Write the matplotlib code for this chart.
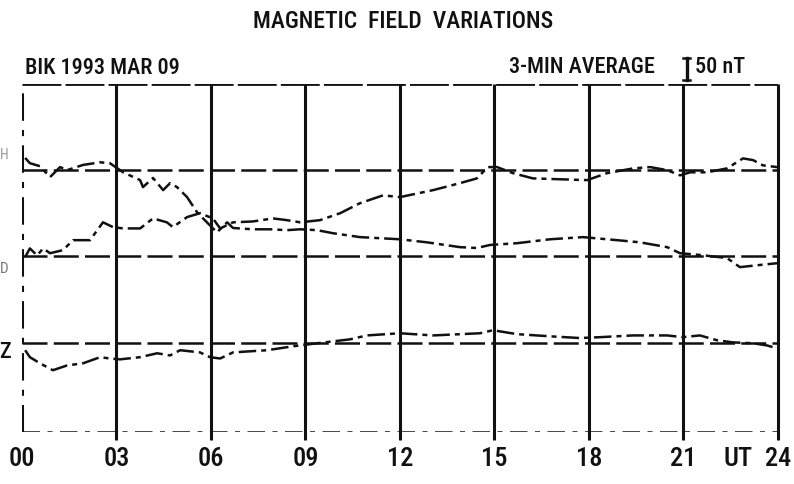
"""Magnetic field variations, BIK 1993 MAR 09 (plotter-style replica)."""
import matplotlib
matplotlib.use("Agg")
import matplotlib.pyplot as plt

INK = "#111111"
FONT = dict(family="Roboto Condensed", weight=500, color=INK)

# baselines (nT, plot units) and the 50 nT scale bar
base_h, base_d, base_z = 0, -198, -398
ylo, yhi = -602, 198
hours_grid = [0, 3, 6, 9, 12, 15, 18, 21, 24]
hour_labels = ["00", "03", "06", "09", "12", "15", "18", "21", "24"]

# H component: deviation from baseline, nT
h_t = [0.1, 0.25, 0.57, 0.89, 1.21, 1.43, 1.94, 2.48, 2.79, 3.21, 3.75, 3.84,
       4.16, 4.48, 4.70, 4.92, 5.24, 5.56, 5.87, 6.19, 6.51, 6.70, 7.33, 7.87,
       8.41, 8.83, 9.37, 9.87, 10.73, 12.0, 12.86, 13.9, 14.44, 14.86, 15.71,
       16.76, 17.81, 18.89, 19.62, 20.48, 20.89, 21.52, 22.38, 22.79, 23.43, 23.97]
h_v = [28, 16, 9, -16, 7, 0, 12, 18, 16, -5, -23, -39,
       -18, -46, -30, -39, -62, -97, -120, -143, -120, -133, -136, -136,
       -138, -136, -138, -145, -154, -159, -166, -177, -179, -172, -168,
       -159, -154, -161, -166, -177, -191, -195, -202, -223, -218, -214]

# D component
d_t = [0.1, 0.25, 0.48, 0.67, 0.89, 1.3, 1.62, 2.16, 2.57, 2.89, 3.21, 3.75,
       4.16, 4.6, 4.79, 5.24, 5.65, 6.06, 6.29, 6.7, 7.33, 7.97, 8.41, 8.83,
       9.46, 10.1, 10.73, 11.46, 12.0, 13.05, 13.9, 14.44, 14.79, 15.08, 15.59,
       16.22, 17.08, 17.94, 18.57, 19.4, 19.94, 20.48, 20.89, 21.21, 21.75,
       22.38, 22.89, 23.21, 23.52, 23.97]
d_v = [-2, 18, 2, 18, 7, 14, 37, 37, 78, 67, 64, 64,
       87, 78, 67, 90, 99, 87, 64, 78, 80, 87, 83, 78,
       83, 99, 122, 140, 136, 152, 168, 179, 205, 205, 191,
       179, 177, 175, 191, 202, 205, 198, 186, 193, 193,
       202, 225, 221, 209, 205]

# Z component
z_t = [0.1, 0.25, 0.57, 0.98, 1.43, 1.94, 2.48, 2.79, 3.11, 3.75, 4.29, 4.7,
       5.02, 5.65, 5.97, 6.29, 6.7, 7.78, 8.6, 9.37, 10.41, 10.95, 12.0, 13.05,
       14.54, 14.95, 15.71, 16.76, 17.71, 18.35, 19.4, 20.48, 20.98, 21.52,
       22.06, 22.57, 23.21, 23.65, 23.84]
z_v = [-16, -32, -46, -62, -51, -46, -32, -35, -37, -32, -23, -28,
       -16, -21, -32, -35, -21, -16, -7, 0, 9, 18, 23, 18,
       23, 30, 21, 16, 12, 14, 18, 18, 14, 18,
       7, 2, 0, -5, -9]

fig = plt.figure(figsize=(7.94, 4.84), dpi=100)
W, Hpx = 794, 484
ax = fig.add_axes([22 / W, 1 - 432 / Hpx, 756 / W, 348 / Hpx])
ax.set_xlim(0, 24)
ax.set_ylim(ylo, yhi)
ax.axis("off")

# frame + hour grid
ax.vlines(hours_grid[1:], ylo - 18, yhi, color=INK, lw=2.2, clip_on=False)
ax.vlines(0, ylo, yhi, color=INK, lw=2.2, linestyles=[(0, (9, 3, 2, 3))])
ax.hlines(yhi, 0, 24, color=INK, lw=2.0, linestyles=[(0, (14, 1.5))])
ax.hlines(ylo, 0, 24, color=INK, lw=1.8, linestyles=[(0, (7, 3, 2, 3))])

# baselines
for b in (base_h, base_d, base_z):
    ax.hlines(b, 0, 24, color=INK, lw=1.8, linestyles=[(0, (10, 2.5))])

trace = dict(color=INK, lw=1.8, solid_joinstyle="round")
ax.plot(h_t, [base_h + v for v in h_v], ls=(0, (7, 2, 2, 2)), **trace)
ax.plot(d_t, [base_d + v for v in d_v], ls=(0, (7, 2, 2, 2)), **trace)
ax.plot(z_t, [base_z + v for v in z_v], ls=(0, (7, 2, 2, 2)), **trace)

# 50 nT scale bar
bx, by0 = 21.1, 207
ax.plot([bx, bx], [by0, by0 + 50], color=INK, lw=2.4, clip_on=False)
ax.plot([bx - 0.12, bx + 0.12], [by0, by0], color=INK, lw=1.8, clip_on=False)
ax.plot([bx - 0.12, bx + 0.12], [by0 + 50, by0 + 50], color=INK, lw=1.8, clip_on=False)

# hour labels
for t, lab in zip(hours_grid, hour_labels):
    ax.text(t, ylo - 62, lab, ha="center", va="center", fontsize=19, **FONT)
ax.text(23.2, ylo - 62, "UT", ha="right", va="center", fontsize=19, **FONT)

# component labels at the left edge
ax.text(-0.55, base_h + 35, "H", ha="center", va="center", fontsize=10,
        family="Roboto Condensed", color="#9a9a9a")
ax.text(-0.55, base_d - 30, "D", ha="center", va="center", fontsize=11,
        family="Roboto Condensed", color="#777777")
ax.text(-0.55, base_z - 20, "Z", ha="center", va="center", fontsize=16, **FONT)

fig.text(403 / W, 1 - 21 / Hpx, "MAGNETIC  FIELD  VARIATIONS", ha="center",
         va="center", fontsize=17, **FONT)
fig.text(25 / W, 1 - 68 / Hpx, "BIK 1993 MAR 09", ha="left", va="center",
         fontsize=16, **FONT)
fig.text(655 / W, 1 - 67 / Hpx, "3-MIN AVERAGE", ha="right", va="center",
         fontsize=16, **FONT)
fig.text(695 / W, 1 - 67 / Hpx, "50 nT", ha="left", va="center",
         fontsize=16, **FONT)

fig.savefig("out.png", dpi=100, facecolor="white")
